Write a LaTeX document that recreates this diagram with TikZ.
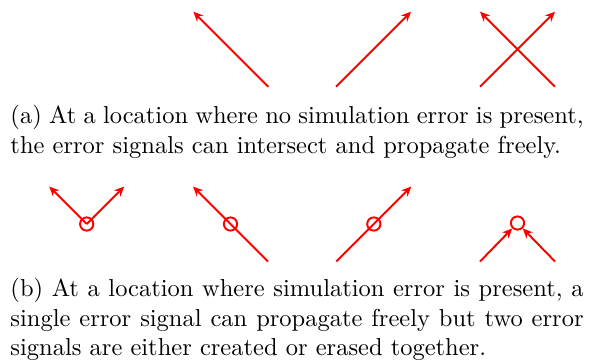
\documentclass[tikz,border=0pt]{standalone}
\usetikzlibrary{arrows.meta}
\begin{document}
\begin{tikzpicture}[x=0.4083pt,y=-0.4083pt,
  sig/.style={red,line width=0.8pt,-{Stealth[length=4pt,width=3.6pt,inset=1.3pt]}},
  seg/.style={red,line width=0.8pt},
  err/.style={circle,draw=red,line width=0.8pt,minimum size=5.4pt,inner sep=0pt},
  captext/.style={anchor=north west,inner sep=0pt,text width=234pt,align=justify,font=\fontsize{10}{12}\selectfont}]
\useasboundingbox (0,0) rectangle (593,363);
% (a) top row
\coordinate (a1s) at (268.3,86.7); \coordinate (a1t) at (193.3,11.7);
\coordinate (a2s) at (336,86.7);   \coordinate (a2t) at (411,11.7);
\coordinate (a3s) at (480,86.7);   \coordinate (a3t) at (555,11.7);
\coordinate (a4s) at (555,86.7);   \coordinate (a4t) at (480,11.7);
\draw[sig] (a1s) -- (a1t);
\draw[sig] (a2s) -- (a2t);
\draw[sig] (a3s) -- (a3t);
\draw[sig] (a4s) -- (a4t);
\node[captext] (capa) at (10,105) {(a) At a location where no simulation error is present,\linebreak the error signals can intersect and propagate freely.};
% (b) bottom row
\node[err] (c1) at (86.7,224) {};
\coordinate (c1l) at (49.2,186.5); \coordinate (c1r) at (124.2,186.5);
\draw[sig] (c1.center) -- (c1l);
\draw[sig] (c1.center) -- (c1r);
\node[err] (c2) at (230.5,224) {};
\coordinate (c2s) at (268,261.5); \coordinate (c2t) at (193,186.5);
\draw[seg] (c2s) -- (c2.center);
\draw[sig] (c2.center) -- (c2t);
\node[err] (c3) at (373.8,224) {};
\coordinate (c3s) at (336.3,261.5); \coordinate (c3t) at (411.3,186.5);
\draw[seg] (c3s) -- (c3.center);
\draw[sig] (c3.center) -- (c3t);
\node[err] (c4) at (517.5,223) {};
\coordinate (c4l) at (480,261.5); \coordinate (c4r) at (555,261.5);
\draw[sig] (c4l) -- (c4);
\draw[sig] (c4r) -- (c4);
\node[captext] (capb) at (10,278) {(b) At a location where simulation error is present, a\linebreak single error signal can propagate freely but two error\linebreak signals are either created or erased together.};
\end{tikzpicture}
\end{document}
